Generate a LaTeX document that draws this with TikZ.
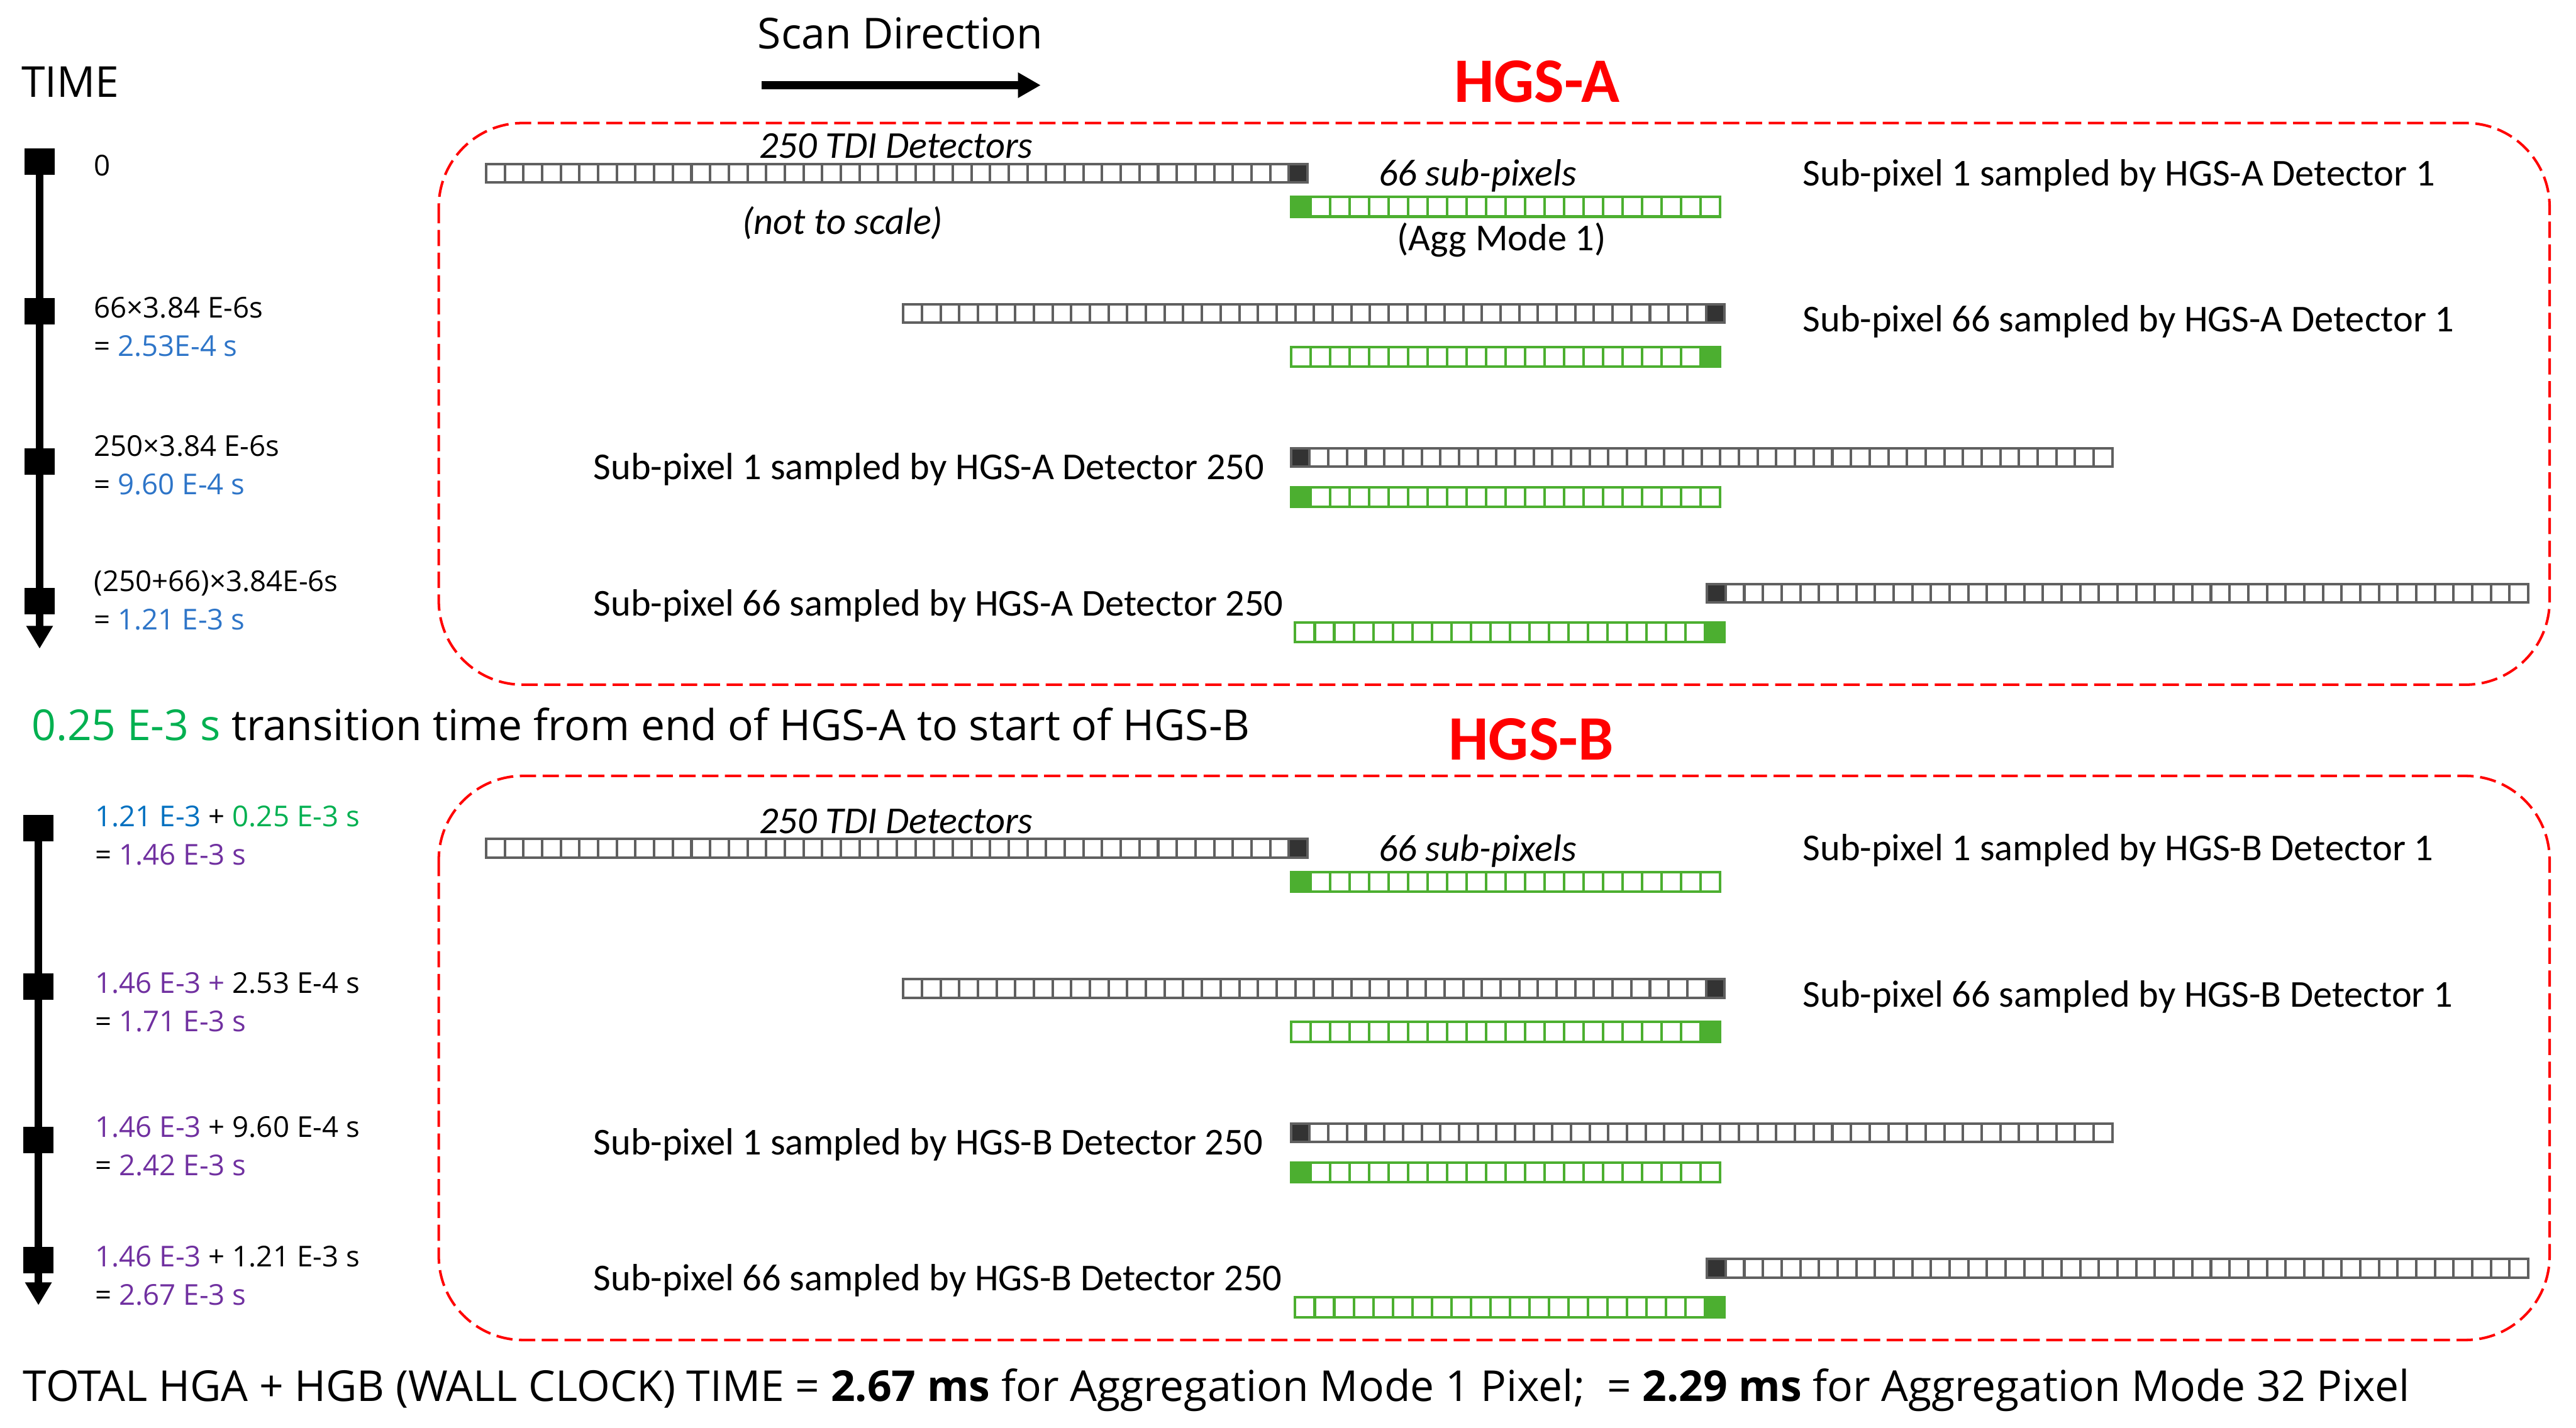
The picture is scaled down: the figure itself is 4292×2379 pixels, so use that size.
\documentclass[tikz,border=0pt]{standalone}
\usepackage{fontspec}
\setmainfont{Carlito}
\newfontfamily\segfont{Open Sans}
\usetikzlibrary{arrows.meta,positioning}

\definecolor{hgsred}{RGB}{255,0,0}
\definecolor{tblue}{RGB}{46,117,200}
\definecolor{bblue}{RGB}{0,112,192}
\definecolor{tgreen}{RGB}{0,176,80}
\definecolor{tpurple}{RGB}{112,48,160}
\definecolor{pixgreen}{RGB}{76,175,48}
\definecolor{detgray}{RGB}{96,96,96}
\definecolor{detdark}{RGB}{51,51,51}

% row of cells: left x, top y, cells, cell width, cell height, marked cell, frame colour, mark colour
\newcommand{\cellrow}[8]{%
  \fill[#8] ({#1+(#6-1)*#4},#2) rectangle ++(#4,#5);
  \draw[#7, line width=1.2pt] (#1,#2) rectangle ++({#3*#4},#5);
  \pgfmathtruncatemacro\lastcell{#3-1}
  \foreach \k in {1,...,\lastcell}
    \draw[#7, line width=1.2pt] ({#1+\k*#4},#2) -- ++(0,#5);
}
\newcommand{\detrow}[3]{\cellrow{#1}{#2}{44}{31.1}{31}{#3}{detgray}{detdark}}
\newcommand{\subrow}[3]{\cellrow{#1}{#2}{22}{32.5}{33}{#3}{pixgreen}{pixgreen}}

\begin{document}
\begin{tikzpicture}[
    x=0.01cm, y=-0.01cm,
    label/.style={inner sep=0pt, font=\fontsize{18}{22}\selectfont},
    segtext/.style={inner sep=0pt, font=\segfont\fontsize{20.2}{24}\selectfont},
    tlabel/.style={inner sep=0pt, anchor=west, align=left, font=\segfont\fontsize{13.6}{18.2}\selectfont},
    timemark/.style={fill=black, minimum width=0.5cm, minimum height=0.44cm, inner sep=0pt},
    timeline/.style={line width=0.13cm, -{Triangle[length=0.38cm,width=0.42cm]}},
    scanarrow/.style={line width=0.13cm, -{Triangle[length=0.38cm,width=0.40cm]}},
    hgsbox/.style={draw=hgsred, line width=1.2pt, dash pattern=on 7.7pt off 3.1pt, rounded corners=1.4cm},
    hgstitle/.style={inner sep=0pt, text=hgsred, font=\fontsize{30}{36}\selectfont\bfseries}
]
    \useasboundingbox (0,0) rectangle (4292,2379);

    % Header
    \node[segtext, anchor=west] (time) at (35,137) {TIME};
    \node[segtext] (scan) at (1500,56) {Scan Direction};
    \coordinate (scanS) at (1269,142);
    \coordinate (scanE) at (1734,142);
    \draw[scanarrow] (scanS) -- (scanE);
    \node[hgstitle] (titleA) at (2561,136) {HGS-A};

    % HGS-A time line
    \node[timemark] (mA1) at (66,269) {};
    \node[timemark] (mA2) at (66,519) {};
    \node[timemark] (mA3) at (66,769) {};
    \node[timemark] (mA4) at (66,1002) {};
    \coordinate (endA) at (66,1081);
    \draw[timeline] (mA1.center) -- (endA);

    \node[tlabel] (tA1) at (156,276) {0};
    \node[tlabel] (tA2) at (156,545) {66×3.84 E-6s\\= \textcolor{tblue}{2.53E-4 s}};
    \node[tlabel] (tA3) at (156,775) {250×3.84 E-6s\\= \textcolor{tblue}{9.60 E-4 s}};
    \node[tlabel] (tA4) at (156,1000) {(250+66)×3.84E-6s\\= \textcolor{tblue}{1.21 E-3 s}};

    % HGS-A detectors
    \draw[hgsbox] (731,205) rectangle (4248,1141);
    \detrow{810}{273}{44}
    \subrow{2151}{328}{1}
    \detrow{1505}{507}{44}
    \subrow{2151}{578}{22}
    \detrow{2151}{747}{1}
    \subrow{2151}{812}{1}
    \detrow{2844}{973}{1}
    \subrow{2158}{1037}{22}

    \node[label, anchor=base] (tdiA) at (1493,264) {\itshape 250 TDI Detectors};
    \node[label, anchor=base] (scale) at (1404,390) {\itshape (not to scale)};
    \node[label, anchor=base] (subA) at (2462,310) {\itshape 66 sub-pixels};
    \node[label, anchor=base] (agg) at (2502,418) {(Agg Mode 1)};
    \node[label, anchor=base west] (sA1) at (3003,310) {Sub-pixel 1 sampled by HGS-A Detector 1};
    \node[label, anchor=base west] (sA2) at (3003,553) {Sub-pixel 66 sampled by HGS-A Detector 1};
    \node[label, anchor=base west] (sA3) at (988,799) {Sub-pixel 1 sampled by HGS-A Detector 250};
    \node[label, anchor=base west] (sA4) at (988,1026) {Sub-pixel 66 sampled by HGS-A Detector 250};

    % Transition
    \node[segtext, anchor=west] (trans) at (52,1207) {\textcolor{tgreen}{0.25 E-3 s} transition time from end of HGS-A to start of HGS-B};
    \node[hgstitle] (titleB) at (2551,1232) {HGS-B};

    % HGS-B time line
    \node[timemark] (mB1) at (64,1380) {};
    \node[timemark] (mB2) at (64,1644) {};
    \node[timemark] (mB3) at (64,1900) {};
    \node[timemark] (mB4) at (64,2100) {};
    \coordinate (endB) at (64,2175);
    \draw[timeline] (mB1.center) -- (endB);

    \node[tlabel] (tB1) at (158,1392) {\textcolor{bblue}{1.21 E-3} + \textcolor{tgreen}{0.25 E-3 s}\\= \textcolor{tpurple}{1.46 E-3 s}};
    \node[tlabel] (tB2) at (158,1670) {\textcolor{tpurple}{1.46 E-3 +} 2.53 E-4 s\\= \textcolor{tpurple}{1.71 E-3 s}};
    \node[tlabel] (tB3) at (158,1910) {\textcolor{tpurple}{1.46 E-3} + 9.60 E-4 s\\= \textcolor{tpurple}{2.42 E-3 s}};
    \node[tlabel] (tB4) at (158,2126) {\textcolor{tpurple}{1.46 E-3} + 1.21 E-3 s\\= \textcolor{tpurple}{2.67 E-3 s}};

    % HGS-B detectors
    \draw[hgsbox] (731,1293) rectangle (4248,2233);
    \detrow{810}{1398}{44}
    \subrow{2151}{1453}{1}
    \detrow{1505}{1632}{44}
    \subrow{2151}{1703}{22}
    \detrow{2151}{1872}{1}
    \subrow{2151}{1937}{1}
    \detrow{2844}{2098}{1}
    \subrow{2158}{2162}{22}

    \node[label, anchor=base] (tdiB) at (1493,1389) {\itshape 250 TDI Detectors};
    \node[label, anchor=base] (subB) at (2462,1435) {\itshape 66 sub-pixels};
    \node[label, anchor=base west] (sB1) at (3003,1434) {Sub-pixel 1 sampled by HGS-B Detector 1};
    \node[label, anchor=base west] (sB2) at (3003,1678) {Sub-pixel 66 sampled by HGS-B Detector 1};
    \node[label, anchor=base west] (sB3) at (988,1924) {Sub-pixel 1 sampled by HGS-B Detector 250};
    \node[label, anchor=base west] (sB4) at (988,2151) {Sub-pixel 66 sampled by HGS-B Detector 250};

    % Total
    \node[segtext, anchor=west] (total) at (38,2317) {TOTAL HGA + HGB (WALL CLOCK) TIME = \textbf{2.67 ms} for Aggregation Mode 1 Pixel;~ = \textbf{2.29 ms} for Aggregation Mode 32 Pixel};
\end{tikzpicture}
\end{document}
